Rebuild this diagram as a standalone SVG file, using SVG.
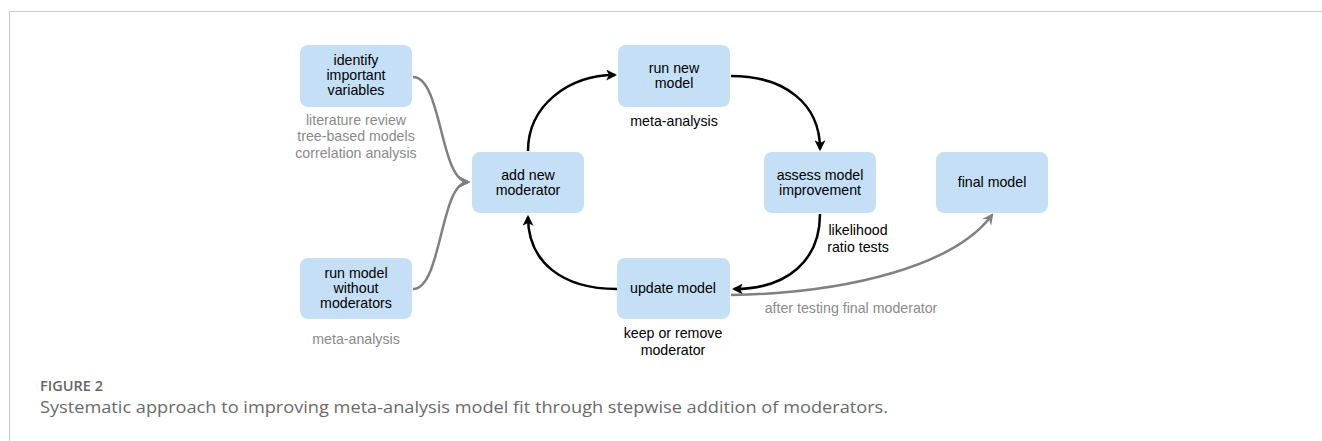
<svg xmlns="http://www.w3.org/2000/svg" width="1322" height="441" viewBox="0 0 1322 441">
<style>
.box{fill:#c5dff6}
.lbl{font-family:"Liberation Sans",Arial,sans-serif;font-size:14.2px;fill:#000;text-anchor:middle}
.note{font-family:"Liberation Sans",Arial,sans-serif;font-size:14.2px;fill:#8a8a8a;text-anchor:middle}
.noteb{font-family:"Liberation Sans",Arial,sans-serif;font-size:14.2px;fill:#000;text-anchor:middle}
.blk{fill:none;stroke:#000;stroke-width:2.5}
.gry{fill:none;stroke:#808080;stroke-width:2.5}
.cap{font-family:"Open Sans","Liberation Sans",sans-serif}
</style>
<defs>
<marker id="ab" viewBox="0 0 10 10" refX="8" refY="5" markerWidth="4.4" markerHeight="4.4" markerUnits="strokeWidth" orient="auto">
<path d="M0,0 L10,5 L0,10 L2.5,5 Z" fill="#000"/>
</marker>
<marker id="ag" viewBox="0 0 10 10" refX="8" refY="5" markerWidth="4.6" markerHeight="4.6" markerUnits="strokeWidth" orient="auto">
<path d="M0,0 L10,5 L0,10 L3.5,5 Z" fill="#808080"/>
</marker>
</defs>
<rect width="1322" height="441" fill="#fff"/>
<path d="M9.5,441 L9.5,11.5 L1322,11.5" fill="none" stroke="#c8c8c8" stroke-width="1"/>

<g id="connectors">
<path class="gry" d="M413,77 C442,77 440,182 468,182" marker-end="url(#ag)"/>
<path class="gry" d="M413,289 C442,289 440,182 468,182" marker-end="url(#ag)"/>
<path class="blk" d="M528,151 C528,106 568,75 615,75" marker-end="url(#ab)"/>
<path class="blk" d="M731,76 C785,76 820,104 820,149" marker-end="url(#ab)"/>
<path class="blk" d="M820,214 C820,260 788,289 734,289" marker-end="url(#ab)"/>
<path class="blk" d="M617,289 C562,289 528,262 528,217" marker-end="url(#ab)"/>
<path class="gry" d="M731,295 C850,293 955,265 992,215" marker-end="url(#ag)"/>
</g>

<g id="identify">
<rect class="box" x="300" y="45" width="112" height="62" rx="8"/>
<text class="lbl" x="356" y="65">identify</text>
<text class="lbl" x="356" y="80">important</text>
<text class="lbl" x="356" y="95">variables</text>
<text class="note" x="356" y="125">literature review</text>
<text class="note" x="356" y="141">tree-based models</text>
<text class="note" x="356" y="158">correlation analysis</text>
</g>
<g id="runwithout">
<rect class="box" x="300" y="258" width="112" height="61" rx="8"/>
<text class="lbl" x="356" y="278">run model</text>
<text class="lbl" x="356" y="293">without</text>
<text class="lbl" x="356" y="308">moderators</text>
<text class="note" x="356" y="344">meta-analysis</text>
</g>
<g id="addnew">
<rect class="box" x="472" y="152" width="112" height="61" rx="8"/>
<text class="lbl" x="528" y="180">add new</text>
<text class="lbl" x="528" y="195">moderator</text>
</g>
<g id="runnew">
<rect class="box" x="618" y="45" width="112" height="62" rx="8"/>
<text class="lbl" x="674" y="73">run new</text>
<text class="lbl" x="674" y="88">model</text>
<text class="noteb" x="674" y="126">meta-analysis</text>
</g>
<g id="assess">
<rect class="box" x="764" y="152" width="112" height="61" rx="8"/>
<text class="lbl" x="820" y="180">assess model</text>
<text class="lbl" x="820" y="195">improvement</text>
<text class="noteb" x="858" y="235">likelihood</text>
<text class="noteb" x="858" y="252">ratio tests</text>
</g>
<g id="update">
<rect class="box" x="617" y="258" width="113" height="61" rx="8"/>
<text class="lbl" x="673" y="293">update model</text>
<text class="noteb" x="673" y="338">keep or remove</text>
<text class="noteb" x="673" y="355">moderator</text>
<text class="note" x="851" y="313">after testing final moderator</text>
</g>
<g id="final">
<rect class="box" x="936" y="152" width="112" height="61" rx="8"/>
<text class="lbl" x="992" y="187">final model</text>
</g>

<g id="caption">
<text class="cap" x="40" y="391" font-size="14.5" font-weight="600" fill="#666" textLength="63" lengthAdjust="spacingAndGlyphs">FIGURE 2</text>
<text class="cap" x="40" y="413" font-size="17" fill="#6a6a6a" textLength="848" lengthAdjust="spacingAndGlyphs">Systematic approach to improving meta-analysis model fit through stepwise addition of moderators.</text>
</g>
</svg>
